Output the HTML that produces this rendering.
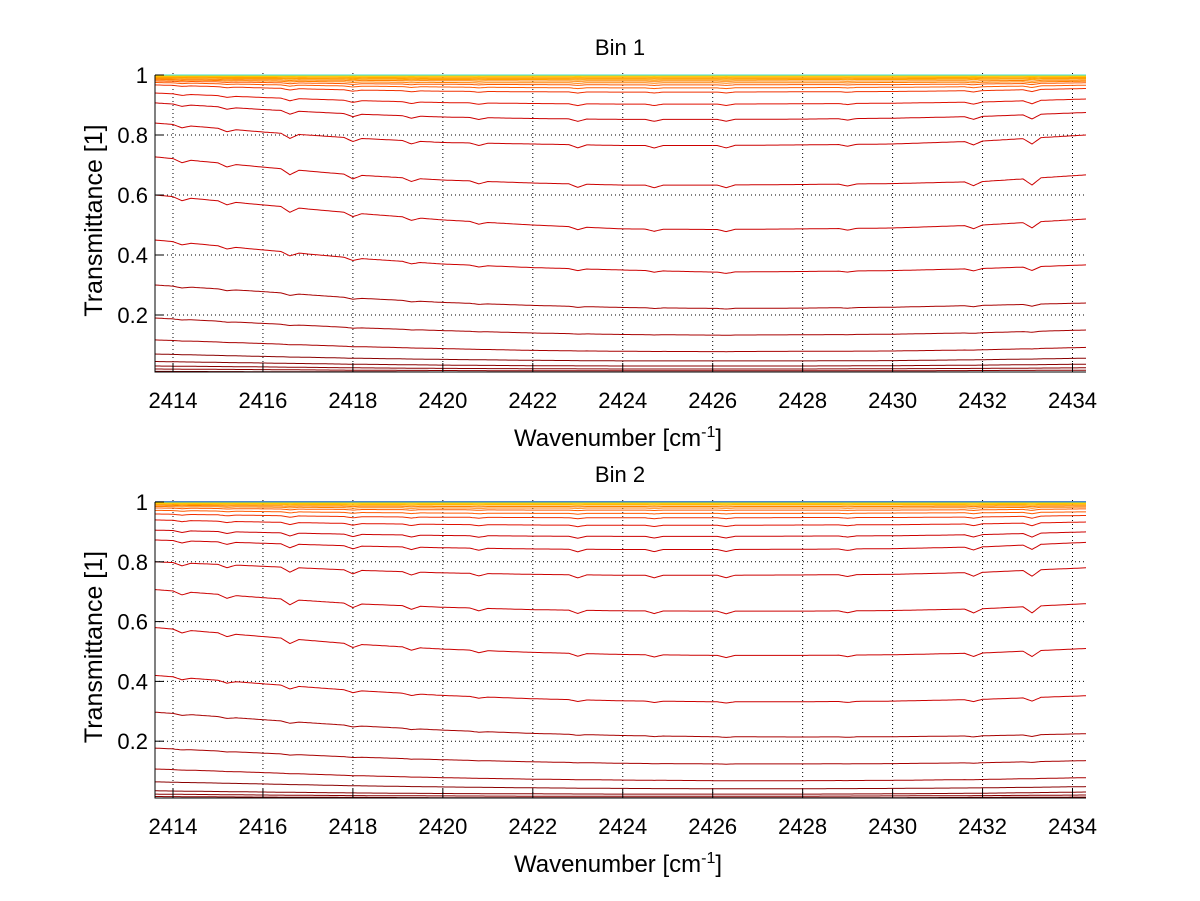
<!DOCTYPE html>
<html><head><meta charset="utf-8"><style>
html,body{margin:0;padding:0;background:#fff;}
svg{display:block;font-family:"Liberation Sans",sans-serif;}
</style></head><body>
<svg id="chart" width="1200" height="901" viewBox="0 0 1200 901" xmlns="http://www.w3.org/2000/svg">
<rect width="1200" height="901" fill="#fff"/>
<defs>
<clipPath id="clip1"><rect x="155" y="72" width="931" height="301"/></clipPath>
<clipPath id="clip2"><rect x="155" y="499" width="931" height="300"/></clipPath>
</defs>
</svg>
<script>
const xTicks=[2414,2416,2418,2420,2422,2424,2426,2428,2430,2432,2434];
const yTicks=[0.2,0.4,0.6,0.8,1];
const yTickLabels=["0.2","0.4","0.6","0.8","1"];
const anchorX=[2413.6,2416,2418,2420,2422,2424,2426,2428,2430,2432,2434.3];
const dipX=[2414.2,2415.2,2416.6,2418.0,2419.3,2420.8,2423.0,2424.7,2426.3,2429.0,2431.8,2433.1];
const dipDepth=[0.5,0.5,0.8,0.6,0.5,0.4,0.5,0.4,0.4,0.3,0.6,1.0];
const bin1=[
[0.012,0.011,0.011,0.01,0.01,0.01,0.01,0.01,0.01,0.01,0.01],
[0.02,0.018,0.016,0.015,0.014,0.014,0.014,0.014,0.014,0.015,0.016],
[0.03,0.027,0.024,0.022,0.021,0.02,0.02,0.02,0.021,0.022,0.024],
[0.045,0.04,0.036,0.033,0.031,0.03,0.03,0.03,0.031,0.033,0.036],
[0.07,0.062,0.056,0.052,0.049,0.047,0.047,0.047,0.048,0.051,0.056],
[0.117,0.105,0.095,0.088,0.082,0.079,0.078,0.079,0.08,0.084,0.092],
[0.19,0.172,0.158,0.148,0.14,0.135,0.133,0.134,0.136,0.141,0.15],
[0.30,0.278,0.257,0.242,0.232,0.225,0.222,0.223,0.226,0.232,0.24],
[0.45,0.417,0.39,0.37,0.358,0.35,0.343,0.345,0.348,0.355,0.367],
[0.60,0.567,0.54,0.517,0.50,0.487,0.485,0.487,0.49,0.50,0.52],
[0.727,0.693,0.667,0.65,0.64,0.633,0.633,0.635,0.638,0.645,0.667],
[0.84,0.81,0.79,0.775,0.77,0.765,0.765,0.767,0.77,0.78,0.80],
[0.907,0.885,0.87,0.86,0.855,0.852,0.852,0.853,0.856,0.862,0.875],
[0.94,0.925,0.915,0.908,0.905,0.903,0.903,0.904,0.906,0.91,0.92],
[0.967,0.957,0.95,0.946,0.944,0.943,0.943,0.944,0.945,0.948,0.955],
[0.975,0.968,0.963,0.96,0.958,0.957,0.957,0.958,0.959,0.961,0.966],
[0.98,0.975,0.971,0.969,0.968,0.967,0.967,0.968,0.968,0.97,0.974],
[0.984,0.98,0.977,0.975,0.974,0.974,0.974,0.974,0.975,0.976,0.979],
[0.987,0.984,0.982,0.981,0.98,0.98,0.98,0.98,0.98,0.981,0.983],
[0.99,0.988,0.986,0.985,0.985,0.984,0.984,0.985,0.985,0.986,0.987],
[0.992,0.99,0.989,0.988,0.988,0.988,0.988,0.988,0.988,0.989,0.99],
[0.994,0.993,0.992,0.991,0.991,0.991,0.991,0.991,0.991,0.992,0.993],
[0.996,0.995,0.994,0.994,0.994,0.994,0.994,0.994,0.994,0.994,0.995],
[0.998,0.997,0.997,0.997,0.997,0.997,0.997,0.997,0.997,0.997,0.997],
[0.999,0.999,0.999,0.999,0.999,0.999,0.999,0.999,0.999,0.999,0.999],
[1.0,1.0,1.0,1.0,1.0,1.0,1.0,1.0,1.0,1.0,1.0]
];
const bin2=[
[0.015,0.013,0.012,0.011,0.011,0.011,0.011,0.011,0.011,0.012,0.013],
[0.023,0.02,0.018,0.017,0.016,0.016,0.016,0.016,0.017,0.018,0.02],
[0.034,0.03,0.027,0.025,0.024,0.023,0.023,0.023,0.024,0.026,0.03],
[0.064,0.057,0.051,0.047,0.044,0.042,0.041,0.041,0.042,0.044,0.048],
[0.107,0.095,0.085,0.078,0.073,0.07,0.068,0.068,0.069,0.072,0.078],
[0.177,0.16,0.147,0.138,0.131,0.126,0.124,0.124,0.125,0.128,0.135],
[0.297,0.272,0.252,0.237,0.226,0.219,0.215,0.214,0.215,0.218,0.225],
[0.42,0.392,0.37,0.353,0.342,0.335,0.332,0.332,0.334,0.34,0.352],
[0.58,0.55,0.525,0.508,0.497,0.49,0.487,0.487,0.489,0.495,0.51],
[0.707,0.68,0.66,0.648,0.64,0.636,0.635,0.635,0.637,0.643,0.66],
[0.80,0.785,0.772,0.763,0.758,0.755,0.755,0.756,0.758,0.765,0.78],
[0.873,0.862,0.853,0.847,0.843,0.841,0.841,0.842,0.844,0.85,0.865],
[0.906,0.898,0.892,0.888,0.886,0.885,0.885,0.886,0.887,0.891,0.9],
[0.94,0.933,0.928,0.925,0.923,0.922,0.922,0.923,0.924,0.927,0.933],
[0.96,0.955,0.951,0.949,0.948,0.947,0.947,0.948,0.948,0.95,0.955],
[0.972,0.968,0.965,0.963,0.962,0.962,0.962,0.962,0.963,0.964,0.967],
[0.98,0.977,0.975,0.974,0.973,0.973,0.973,0.973,0.973,0.974,0.977],
[0.985,0.983,0.981,0.98,0.98,0.98,0.98,0.98,0.98,0.981,0.983],
[0.989,0.987,0.986,0.985,0.985,0.985,0.985,0.985,0.985,0.986,0.987],
[0.992,0.991,0.99,0.99,0.99,0.99,0.99,0.99,0.99,0.99,0.991],
[0.995,0.994,0.993,0.993,0.993,0.993,0.993,0.993,0.993,0.993,0.994],
[0.997,0.996,0.996,0.996,0.996,0.996,0.996,0.996,0.996,0.996,0.996],
[0.998,0.998,0.998,0.998,0.998,0.998,0.998,0.998,0.998,0.998,0.998],
[0.999,0.999,0.999,0.999,0.999,0.999,0.999,0.999,0.999,0.999,0.999],
[1.0,1.0,1.0,1.0,1.0,1.0,1.0,1.0,1.0,1.0,1.0],
[1.001,1.001,1.001,1.001,1.001,1.001,1.001,1.001,1.001,1.001,1.001]
];
const NS="http://www.w3.org/2000/svg";
const svg=document.getElementById('chart');
const XMIN=2413.6,XMAX=2434.3,YMIN=0.01,YMAX=1.0;
function mk(tag,attrs,parent){const e=document.createElementNS(NS,tag);for(const k in attrs)e.setAttribute(k,attrs[k]);(parent||svg).appendChild(e);return e;}
function colorFor(v){
  if(v<0.1) return '#8a0000';
  if(v<0.35) return '#a80000';
  if(v<0.93) return '#cc0000';
  if(v<0.95) return '#e01000';
  if(v<0.97) return '#f03000';
  if(v<0.982) return '#ff5a00';
  if(v<0.99) return '#ff8000';
  if(v<0.995) return '#ffa000';
  if(v<0.9985) return '#ffc800';
  if(v<0.9995) return '#e0e020';
  if(v<1.0005) return '#40e0d0';
  return '#1060c0';
}
function interp(arr,x){
  for(let i=0;i<anchorX.length-1;i++){
    if(x<=anchorX[i+1]){const t=(x-anchorX[i])/(anchorX[i+1]-anchorX[i]);return arr[i]+(arr[i+1]-arr[i])*t;}
  }
  return arr[arr.length-1];
}
function drawPanel(top,bottom,data,title,clip,idx){
  const L=155,R=1086;
  const sx=x=>L+(x-XMIN)/(XMAX-XMIN)*(R-L);
  const sy=y=>bottom-(y-YMIN)/(YMAX-YMIN)*(bottom-top);
  const g=mk('g',{});
  
  
  xTicks.forEach(t=>{const l=mk('line',{x1:sx(t),x2:sx(t),y1:top-2,y2:bottom,stroke:'#000','stroke-width':1,'stroke-dasharray':'1,3'},g);
    });
  yTicks.forEach(t=>{const l=mk('line',{x1:L,x2:R,y1:sy(t),y2:sy(t),stroke:'#000','stroke-width':1,'stroke-dasharray':'1,3'},g);
    });
  const sg=mk('g',{'clip-path':'url(#'+clip+')'},g);
  data.forEach((arr,si)=>{
    let pts=[];
    for(let x=XMIN;x<=XMAX+0.001;x+=0.05){
      let v=interp(arr,x);
      let d=0;
      dipX.forEach((dx,k)=>{const w=Math.abs(x-dx);if(w<0.2)d+=dipDepth[k]*(1-w/0.2);});
      v-=d*0.3*v*v*(1-v)*0.5;
      pts.push(sx(x).toFixed(1)+','+sy(v).toFixed(1));
    }
    const p=mk('polyline',{points:pts.join(' '),fill:'none',stroke:colorFor(arr[0]),'stroke-width':1},sg);
    
    
  });
  const ax=mk('path',{d:`M${L},${top} L${L},${bottom} L${R},${bottom}`,fill:'none',stroke:'#000','stroke-width':1},g);
  
  xTicks.forEach(t=>{
    mk('line',{x1:sx(t),x2:sx(t),y1:bottom,y2:bottom-9,stroke:'#000'},g);
    const tx=mk('text',{x:sx(t),y:bottom+36,'text-anchor':'middle','font-size':22,fill:'#000'},g);
    tx.textContent=t;
    
  });
  yTicks.forEach((t,i)=>{
    mk('line',{x1:L,x2:L+9,y1:sy(t),y2:sy(t),stroke:'#000'},g);
    const tx=mk('text',{x:L-7,y:sy(t)+8,'text-anchor':'end','font-size':22,fill:'#000'},g);
    tx.textContent=yTickLabels[i];
    
  });
  const ti=mk('text',{x:620,y:top-20,'text-anchor':'middle','font-size':22,fill:'#000'},g);
  ti.textContent=title;
  
  const xl=mk('text',{x:618,y:bottom+74,'text-anchor':'middle','font-size':24,fill:'#000'},g);
  xl.innerHTML='Wavenumber [cm<tspan dy="-9" font-size="16">-1</tspan><tspan dy="9">]</tspan>';
  
  const cy=(top+bottom)/2-3;
  const yl=mk('text',{x:102,y:cy,'text-anchor':'middle','font-size':25,fill:'#000',transform:`rotate(-90 102 ${cy})`},g);
  yl.textContent='Transmittance [1]';
  
}
drawPanel(75,372,bin1,'Bin 1','clip1',1);
drawPanel(502,798,bin2,'Bin 2','clip2',2);
</script>
</body></html>
